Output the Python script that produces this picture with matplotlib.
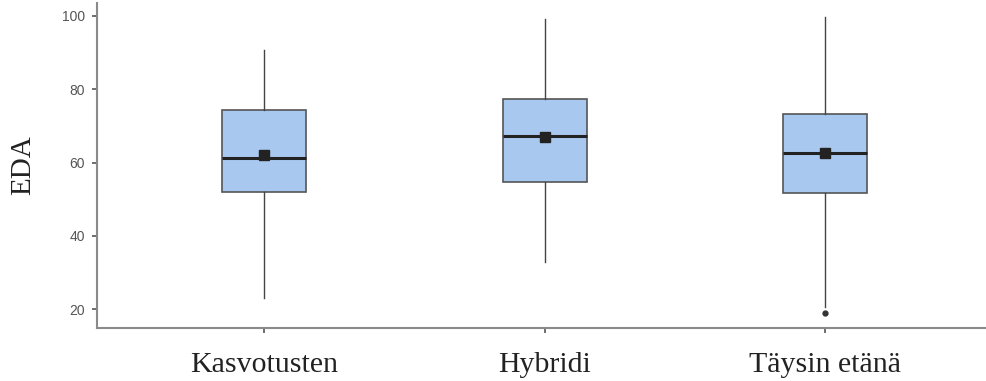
import matplotlib
matplotlib.use("Agg")
import matplotlib.pyplot as plt

# --- values ---
groups = ["Kasvotusten", "Hybridi", "Täysin etänä"]
q1 = [51.9, 54.7, 51.8]
medians = [61.2, 67.3, 62.6]
q3 = [74.3, 77.3, 73.2]
whisker_lo = [23.0, 33.0, 20.7]
whisker_hi = [90.7, 99.1, 99.6]
means = [62.0, 66.9, 62.6]
outliers = [[], [], [18.9]]
yticks = [20, 40, 60, 80, 100]

stats = []
for i, g in enumerate(groups):
    stats.append({
        "label": g, "q1": q1[i], "med": medians[i], "q3": q3[i],
        "whislo": whisker_lo[i], "whishi": whisker_hi[i],
        "mean": means[i], "fliers": outliers[i],
    })

fig = plt.figure(figsize=(9.87, 3.81), dpi=100)
ax = fig.add_axes([0.098, 0.139, 0.902, 0.853])

positions = [1, 2, 3]
ax.bxp(stats, positions=positions, widths=0.30, patch_artist=True,
       showmeans=True, showcaps=False,
       boxprops=dict(facecolor="#a9c8ef", edgecolor="#555555", linewidth=1.2),
       medianprops=dict(color="#222222", linewidth=2.2),
       whiskerprops=dict(color="#444444", linewidth=1.0),
       meanprops=dict(marker="s", markerfacecolor="#222222",
                      markeredgecolor="#222222", markersize=7),
       flierprops=dict(marker="o", markerfacecolor="#333333",
                       markeredgecolor="#333333", markersize=3.5))

ax.set_xlim(0.402, 3.577)
ax.set_ylim(14.9, 103.5)
ax.set_yticks(yticks)
ax.set_xticks(positions)
ax.set_xticklabels(groups, fontsize=21.5, family="Liberation Serif", color="#222222")
for lab in ax.get_yticklabels():
    lab.set_family("Liberation Sans")
ax.tick_params(axis="y", labelsize=10, labelcolor="#555555", color="#555555",
               length=3.6, width=1.2, pad=5)
ax.tick_params(axis="x", color="#555555", length=3.5, width=1.2, pad=14)

ax.set_ylabel("EDA", fontsize=21, family="Liberation Serif", color="#222222",
              labelpad=18)

for side in ["top", "right"]:
    ax.spines[side].set_visible(False)
for side in ["left", "bottom"]:
    ax.spines[side].set_color("#8a8a8a")
    ax.spines[side].set_linewidth(1.5)

fig.savefig("out.png", dpi=100)
